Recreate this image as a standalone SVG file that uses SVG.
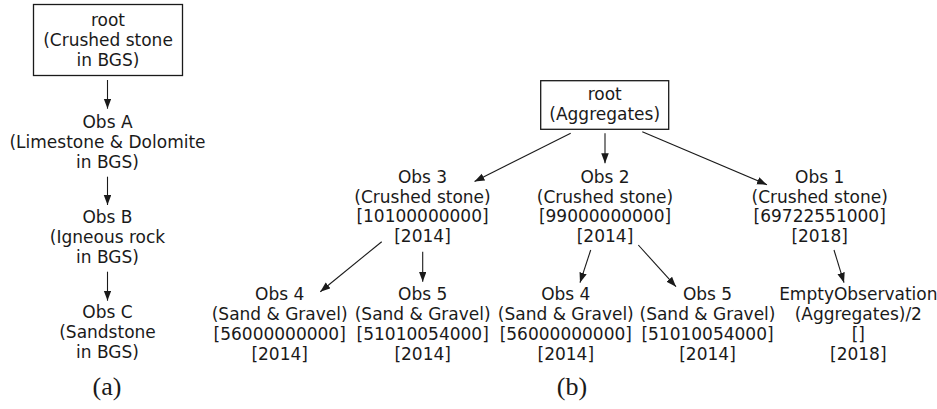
<svg xmlns="http://www.w3.org/2000/svg" width="937" height="409" viewBox="0 0 937 409">
<style>
  .t { font-family: "DejaVu Sans", Verdana, sans-serif; font-size: 17px; fill: #1a1a1a; text-anchor: middle; }
  .cap { font-family: "Liberation Serif", "DejaVu Serif", serif; font-size: 26px; fill: #1a1a1a; text-anchor: middle; }
  .box { fill: #ffffff; stroke: #1a1a1a; stroke-width: 1.3; }
  .edge { stroke: #1a1a1a; stroke-width: 1.1; fill: none; marker-end: url(#arrow); }
</style>
<defs>
  <marker id="arrow" markerUnits="userSpaceOnUse" markerWidth="10" markerHeight="8" refX="10" refY="3.75" orient="auto">
    <path d="M0,0 L10,3.75 L0,7.5 z" fill="#1a1a1a"/>
  </marker>
</defs>
<rect width="937" height="409" fill="#ffffff"/>

<g id="connectors">
  <line class="edge" x1="107.5" y1="80" x2="107.5" y2="108.7"/>
  <line class="edge" x1="107.5" y1="176.7" x2="107.5" y2="205"/>
  <line class="edge" x1="107.5" y1="271.7" x2="107.5" y2="300.7"/>
  <line class="edge" x1="570.7" y1="133.3" x2="474.5" y2="181.5"/>
  <line class="edge" x1="605" y1="133.3" x2="605" y2="163.3"/>
  <line class="edge" x1="642.3" y1="131.7" x2="767" y2="184.7"/>
  <line class="edge" x1="381.7" y1="241.7" x2="320.3" y2="291.7"/>
  <line class="edge" x1="422.7" y1="251.7" x2="422.7" y2="281.7"/>
  <line class="edge" x1="590.7" y1="250" x2="580" y2="282.7"/>
  <line class="edge" x1="638.3" y1="245" x2="676" y2="286.7"/>
  <line class="edge" x1="834" y1="250" x2="844" y2="282.7"/>
</g>

<g id="a-root">
  <rect class="box" x="33.5" y="4.5" width="149" height="71"/>
  <text class="t" x="108" y="26">root</text>
  <text class="t" x="108" y="46">(Crushed stone</text>
  <text class="t" x="108" y="66">in BGS)</text>
</g>
<g id="a-obsA">
  <text class="t" x="107.5" y="128.3">Obs A</text>
  <text class="t" x="107.5" y="148.3">(Limestone &amp; Dolomite</text>
  <text class="t" x="107.5" y="168.3">in BGS)</text>
</g>
<g id="a-obsB">
  <text class="t" x="107.5" y="223.3">Obs B</text>
  <text class="t" x="107.5" y="243">(Igneous rock</text>
  <text class="t" x="107.5" y="263">in BGS)</text>
</g>
<g id="a-obsC">
  <text class="t" x="107.5" y="318.3">Obs C</text>
  <text class="t" x="107.5" y="338.3">(Sandstone</text>
  <text class="t" x="107.5" y="358.3">in BGS)</text>
</g>
<text class="cap" x="107" y="395">(a)</text>

<g id="b-root">
  <rect class="box" x="540.7" y="80.7" width="128" height="48.6"/>
  <text class="t" x="604.7" y="100">root</text>
  <text class="t" x="604.7" y="120">(Aggregates)</text>
</g>
<g id="b-obs3">
  <text class="t" x="422.5" y="183">Obs 3</text>
  <text class="t" x="422.5" y="202.7">(Crushed stone)</text>
  <text class="t" x="422.5" y="222.4">[10100000000]</text>
  <text class="t" x="422.5" y="242">[2014]</text>
</g>
<g id="b-obs2">
  <text class="t" x="605" y="183">Obs 2</text>
  <text class="t" x="605" y="202.7">(Crushed stone)</text>
  <text class="t" x="605" y="222.4">[99000000000]</text>
  <text class="t" x="605" y="242">[2014]</text>
</g>
<g id="b-obs1">
  <text class="t" x="819.7" y="183">Obs 1</text>
  <text class="t" x="819.7" y="202.7">(Crushed stone)</text>
  <text class="t" x="819.7" y="222.4">[69722551000]</text>
  <text class="t" x="819.7" y="242">[2018]</text>
</g>
<g id="b-obs4a">
  <text class="t" x="279.7" y="300">Obs 4</text>
  <text class="t" x="279.7" y="320">(Sand &amp; Gravel)</text>
  <text class="t" x="279.7" y="339.7">[56000000000]</text>
  <text class="t" x="279.7" y="359.5">[2014]</text>
</g>
<g id="b-obs5a">
  <text class="t" x="422.7" y="300">Obs 5</text>
  <text class="t" x="422.7" y="320">(Sand &amp; Gravel)</text>
  <text class="t" x="422.7" y="339.7">[51010054000]</text>
  <text class="t" x="422.7" y="359.5">[2014]</text>
</g>
<g id="b-obs4b">
  <text class="t" x="565.8" y="300">Obs 4</text>
  <text class="t" x="565.8" y="320">(Sand &amp; Gravel)</text>
  <text class="t" x="565.8" y="339.7">[56000000000]</text>
  <text class="t" x="565.8" y="359.5">[2014]</text>
</g>
<g id="b-obs5b">
  <text class="t" x="707.5" y="300">Obs 5</text>
  <text class="t" x="707.5" y="320">(Sand &amp; Gravel)</text>
  <text class="t" x="707.5" y="339.7">[51010054000]</text>
  <text class="t" x="707.5" y="359.5">[2014]</text>
</g>
<g id="b-empty">
  <text class="t" x="858.3" y="300">EmptyObservation</text>
  <text class="t" x="858.3" y="320">(Aggregates)/2</text>
  <text class="t" x="858.3" y="339.7">[]</text>
  <text class="t" x="858.3" y="359.5">[2018]</text>
</g>
<text class="cap" x="572" y="395">(b)</text>
</svg>
